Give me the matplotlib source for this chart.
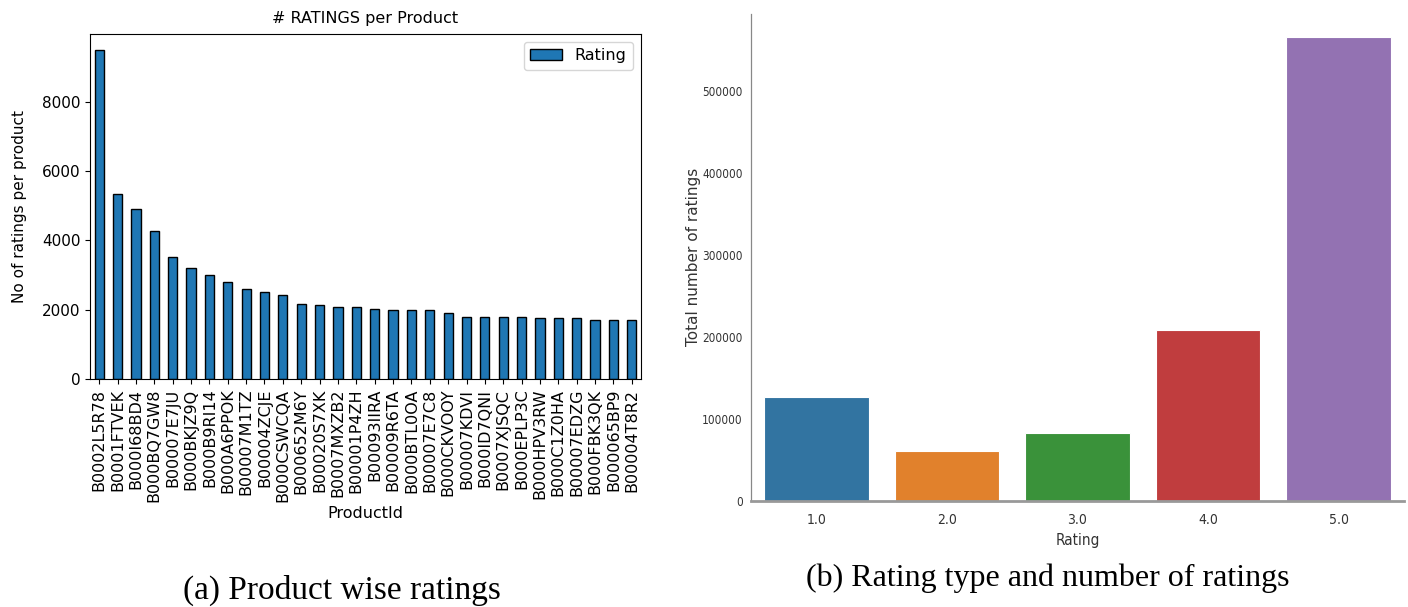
import matplotlib
matplotlib.use("Agg")
import matplotlib.pyplot as plt
from matplotlib import font_manager

product_ids = ["B0002L5R78", "B0001FTVEK", "B000I68BD4", "B000BQ7GW8", "B00007E7JU",
               "B000BKJZ9Q", "B000B9RI14", "B000A6PPOK", "B00007M1TZ", "B00004ZCJE",
               "B000CSWCQA", "B000652M6Y", "B00020S7XK", "B0007MXZB2", "B00001P4ZH",
               "B00093IIRA", "B00009R6TA", "B000BTL0OA", "B00007E7C8", "B000CKVOOY",
               "B00007KDVI", "B000ID7QNI", "B0007XJSQC", "B000EPLP3C", "B000HPV3RW",
               "B000C1Z0HA", "B00007EDZG", "B000FBK3QK", "B000065BP9", "B00004T8R2"]
product_counts = [9487, 5345, 4903, 4275, 3523, 3219, 2996, 2800, 2600, 2514,
                  2420, 2168, 2130, 2085, 2085, 2032, 1985, 1985, 1985, 1898,
                  1800, 1800, 1800, 1800, 1753, 1753, 1753, 1705, 1705, 1705]

rating_levels = ["1.0", "2.0", "3.0", "4.0", "5.0"]
rating_counts = [127000, 60500, 83000, 208000, 566000]
rating_colors = ["#3274a1", "#e1812c", "#3a923a", "#c03d3e", "#9372b2"]
rating_yticks = [0, 100000, 200000, 300000, 400000, 500000]

available = {f.name for f in font_manager.fontManager.ttflist}
serif = "Liberation Serif" if "Liberation Serif" in available else "DejaVu Serif"
cond = dict(family="DejaVu Sans", fontstretch="condensed")

fig = plt.figure(figsize=(14.08, 6.07), dpi=100)

# ---- left chart ----
ax1 = fig.add_axes([90/1408, (607-379)/607, (641-90)/1408, (379-34)/607])
x = list(range(len(product_ids)))
ax1.bar(x, product_counts, width=0.5, color="#1f77b4", edgecolor="black",
        linewidth=1.0, label="Rating")
ax1.set_xlim(-0.5, len(product_ids) - 0.5)
ax1.set_ylim(0, max(product_counts) * 1.05)
ax1.set_xticks(x)
ax1.set_xticklabels(product_ids, rotation=90, fontsize=11.5)
ax1.set_yticks([0, 2000, 4000, 6000, 8000])
ax1.tick_params(axis="y", labelsize=11)
ax1.set_title("# RATINGS per Product", fontsize=11.5, pad=8)
ax1.set_xlabel("ProductId", fontsize=11.5, labelpad=3)
ax1.set_ylabel("No of ratings per product", fontsize=11)
ax1.yaxis.set_label_coords((27 - 90) / 551, 0.5)
ax1.legend(loc="upper right", fontsize=11.5, handlelength=2.0)

# ---- right chart ----
ax2 = fig.add_axes([751/1408, (607-500.7)/607, (1404-751)/1408, (500.7-14)/607])
xr = list(range(len(rating_levels)))
ax2.bar(xr, rating_counts, width=0.8, color=rating_colors, edgecolor="white", linewidth=0.8)
ax2.set_xlim(-0.5, len(rating_levels) - 0.5)
ax2.set_xticks(xr)
ax2.set_xticklabels(rating_levels, fontsize=10, color="#333333", **cond)
ax2.set_yticks(rating_yticks)
ax2.set_yticklabels([str(v) for v in rating_yticks], fontsize=8.5, color="#333333", **cond)
ax2.tick_params(axis="y", length=0, pad=6)
ax2.tick_params(axis="x", length=0, pad=9)
for s in ["top", "right"]:
    ax2.spines[s].set_visible(False)
ax2.spines["left"].set_color("#888888")
ax2.spines["left"].set_linewidth(0.9)
ax2.spines["bottom"].set_color("#999999")
ax2.spines["bottom"].set_linewidth(2.0)
ax2.set_xlabel("Rating", fontsize=11, color="#333333", **cond)
ax2.xaxis.set_label_coords(0.5, -(533 - 500.7) / (500.7 - 14))
ax2.set_ylabel("Total number of ratings", fontsize=11, color="#333333")
ax2.yaxis.set_label_coords((701 - 751) / 653, 0.5)

# ---- captions ----
fig.text(342/1408, 1 - 590/607, "(a) Product wise ratings", family=serif,
         fontsize=24, ha="center", va="center")
fig.text(1048/1408, 1 - 578/607, "(b) Rating type and number of ratings", family=serif,
         fontsize=23, ha="center", va="center")

fig.savefig("out.png", dpi=100)
